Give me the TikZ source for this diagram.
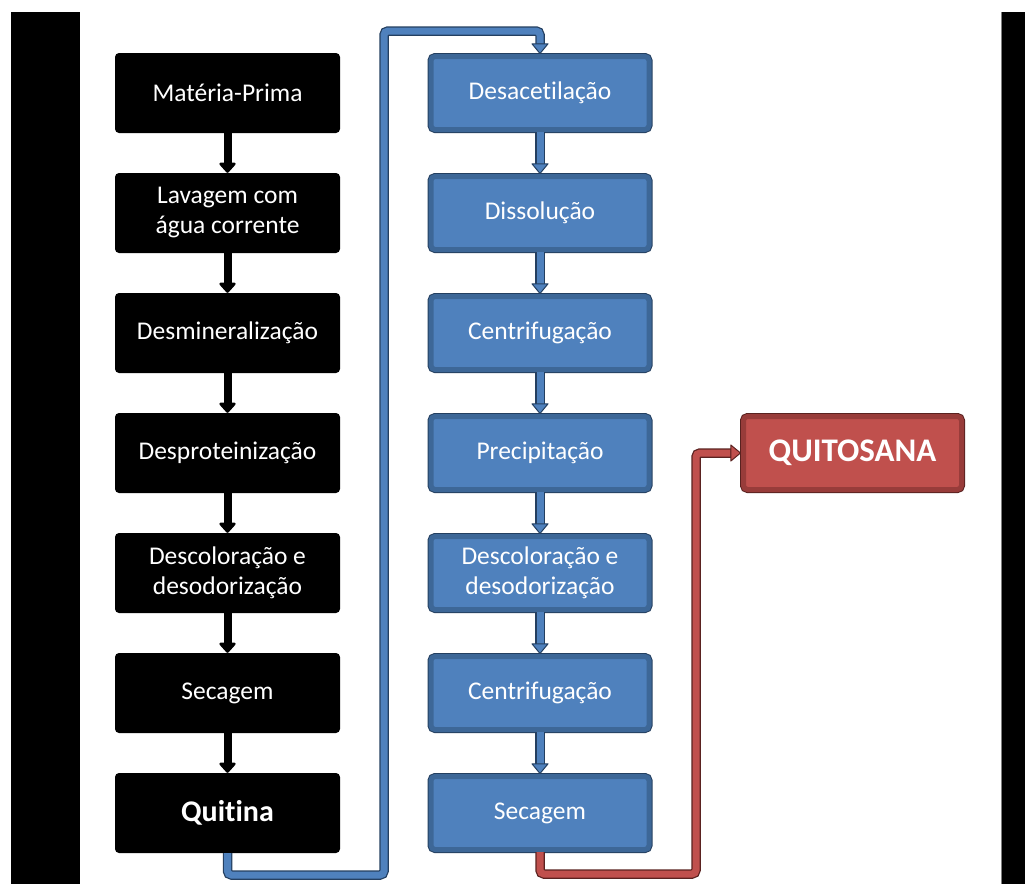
\documentclass[tikz,border=0pt]{standalone}
\usepackage{fontspec}
\setmainfont[Ligatures=NoCommon]{Carlito}
\usetikzlibrary{arrows.meta}
\definecolor{cblue}{HTML}{4F81BD}
\definecolor{cbband}{HTML}{3D6797}
\definecolor{cbdark}{HTML}{243F60}
\definecolor{cred}{HTML}{C0504D}
\definecolor{crband}{HTML}{983C3A}
\definecolor{crdark}{HTML}{5A2220}
\tikzset{
  boxbase/.style={minimum width=218pt, minimum height=73pt, inner sep=0pt, align=center,
    text=white, font=\fontsize{25.5}{30}\selectfont, rounded corners=4pt},
  blackbox/.style={boxbase, fill=black, minimum width=225pt, minimum height=80pt},
  bluebox/.style={boxbase, fill=cblue, draw=cbband, line width=5pt,
    preaction={draw=cbdark, line width=7pt}},
  redbox/.style={boxbase, fill=cred, draw=crband, line width=5pt,
    preaction={draw=crdark, line width=7pt}},
  karrow/.style={line width=8pt, draw=black, -{Triangle[width=19pt,length=11pt,round]}},
  bout/.style={line width=9.5pt, draw=cbdark, shorten >=10pt, rounded corners=4pt},
  bline/.style={line width=7pt, draw=cblue, rounded corners=4pt,
    -{Triangle[width=18pt,length=11pt,round,fill=cblue,color=cbdark,line width=1pt]}},
  rout/.style={line width=9.5pt, draw=crdark, shorten >=10pt, rounded corners=4pt},
  rline/.style={line width=7pt, draw=cred, rounded corners=4pt,
    -{Triangle[width=18pt,length=11pt,round,fill=cred,color=crdark,line width=1pt]}},
}
\begin{document}
\begin{tikzpicture}[x=1pt,y=-1pt]
\useasboundingbox (0,0) rectangle (1025,884);
\fill[white] (0,0) rectangle (1025,884);
% side bars
\fill[black] (11,12) rectangle (80,884);
\fill[black] (1001,12) rectangle (1025,884);
\draw[gray, line width=0.8pt] (1001,12) -- (1001,884);

% left column
\node[blackbox] (k1) at (227.5,93) {Matéria-Prima};
\node[blackbox] (k2) at (227.5,213) {Lavagem com\\água corrente};
\node[blackbox] (k3) at (227.5,333) {Desmineralização};
\node[blackbox] (k4) at (227.5,453) {Desproteinização};
\node[blackbox] (k5) at (227.5,573) {Descoloração e\\desodorização};
\node[blackbox] (k6) at (227.5,693) {Secagem};
\node[blackbox, font=\fontsize{30}{36}\selectfont\bfseries] (k7) at (227.5,813) {Quitina};

% middle column
\node[bluebox] (b1) at (540,93) {Desacetilação};
\node[bluebox] (b2) at (540,213) {Dissolução};
\node[bluebox] (b3) at (540,333) {Centrifugação};
\node[bluebox] (b4) at (540,453) {Precipitação};
\node[bluebox] (b5) at (540,573) {Descoloração e\\desodorização};
\node[bluebox] (b6) at (540,693) {Centrifugação};
\node[bluebox] (b7) at (540,813) {Secagem};

% result
\node[redbox, font=\fontsize{33}{40}\selectfont\bfseries] (q) at (852.5,453) {QUITOSANA};

% black arrows
\foreach \a/\b in {k1/k2,k2/k3,k3/k4,k4/k5,k5/k6,k6/k7}
  \draw[karrow] (\a.south) -- (\b.north);

% blue arrows
\foreach \a/\b in {b1/b2,b2/b3,b3/b4,b4/b5,b5/b6,b6/b7}{
  \draw[bout] (\a.south) -- (\b.north);
  \draw[bline] (\a.south) -- (\b.north);
}

% connector Quitina -> Desacetilacao
\coordinate (c1) at (384,875);
\coordinate (c2) at (384,31);
\draw[bout] (k7.south) |- (c1) -- (c2) -| (b1.north);
\draw[bline] (k7.south) |- (c1) -- (c2) -| (b1.north);

% connector Secagem -> QUITOSANA
\coordinate (r1) at (696,874);
\draw[rout] (b7.south) |- (r1) |- (q.west);
\draw[rline] (b7.south) |- (r1) |- (q.west);
\end{tikzpicture}
\end{document}
